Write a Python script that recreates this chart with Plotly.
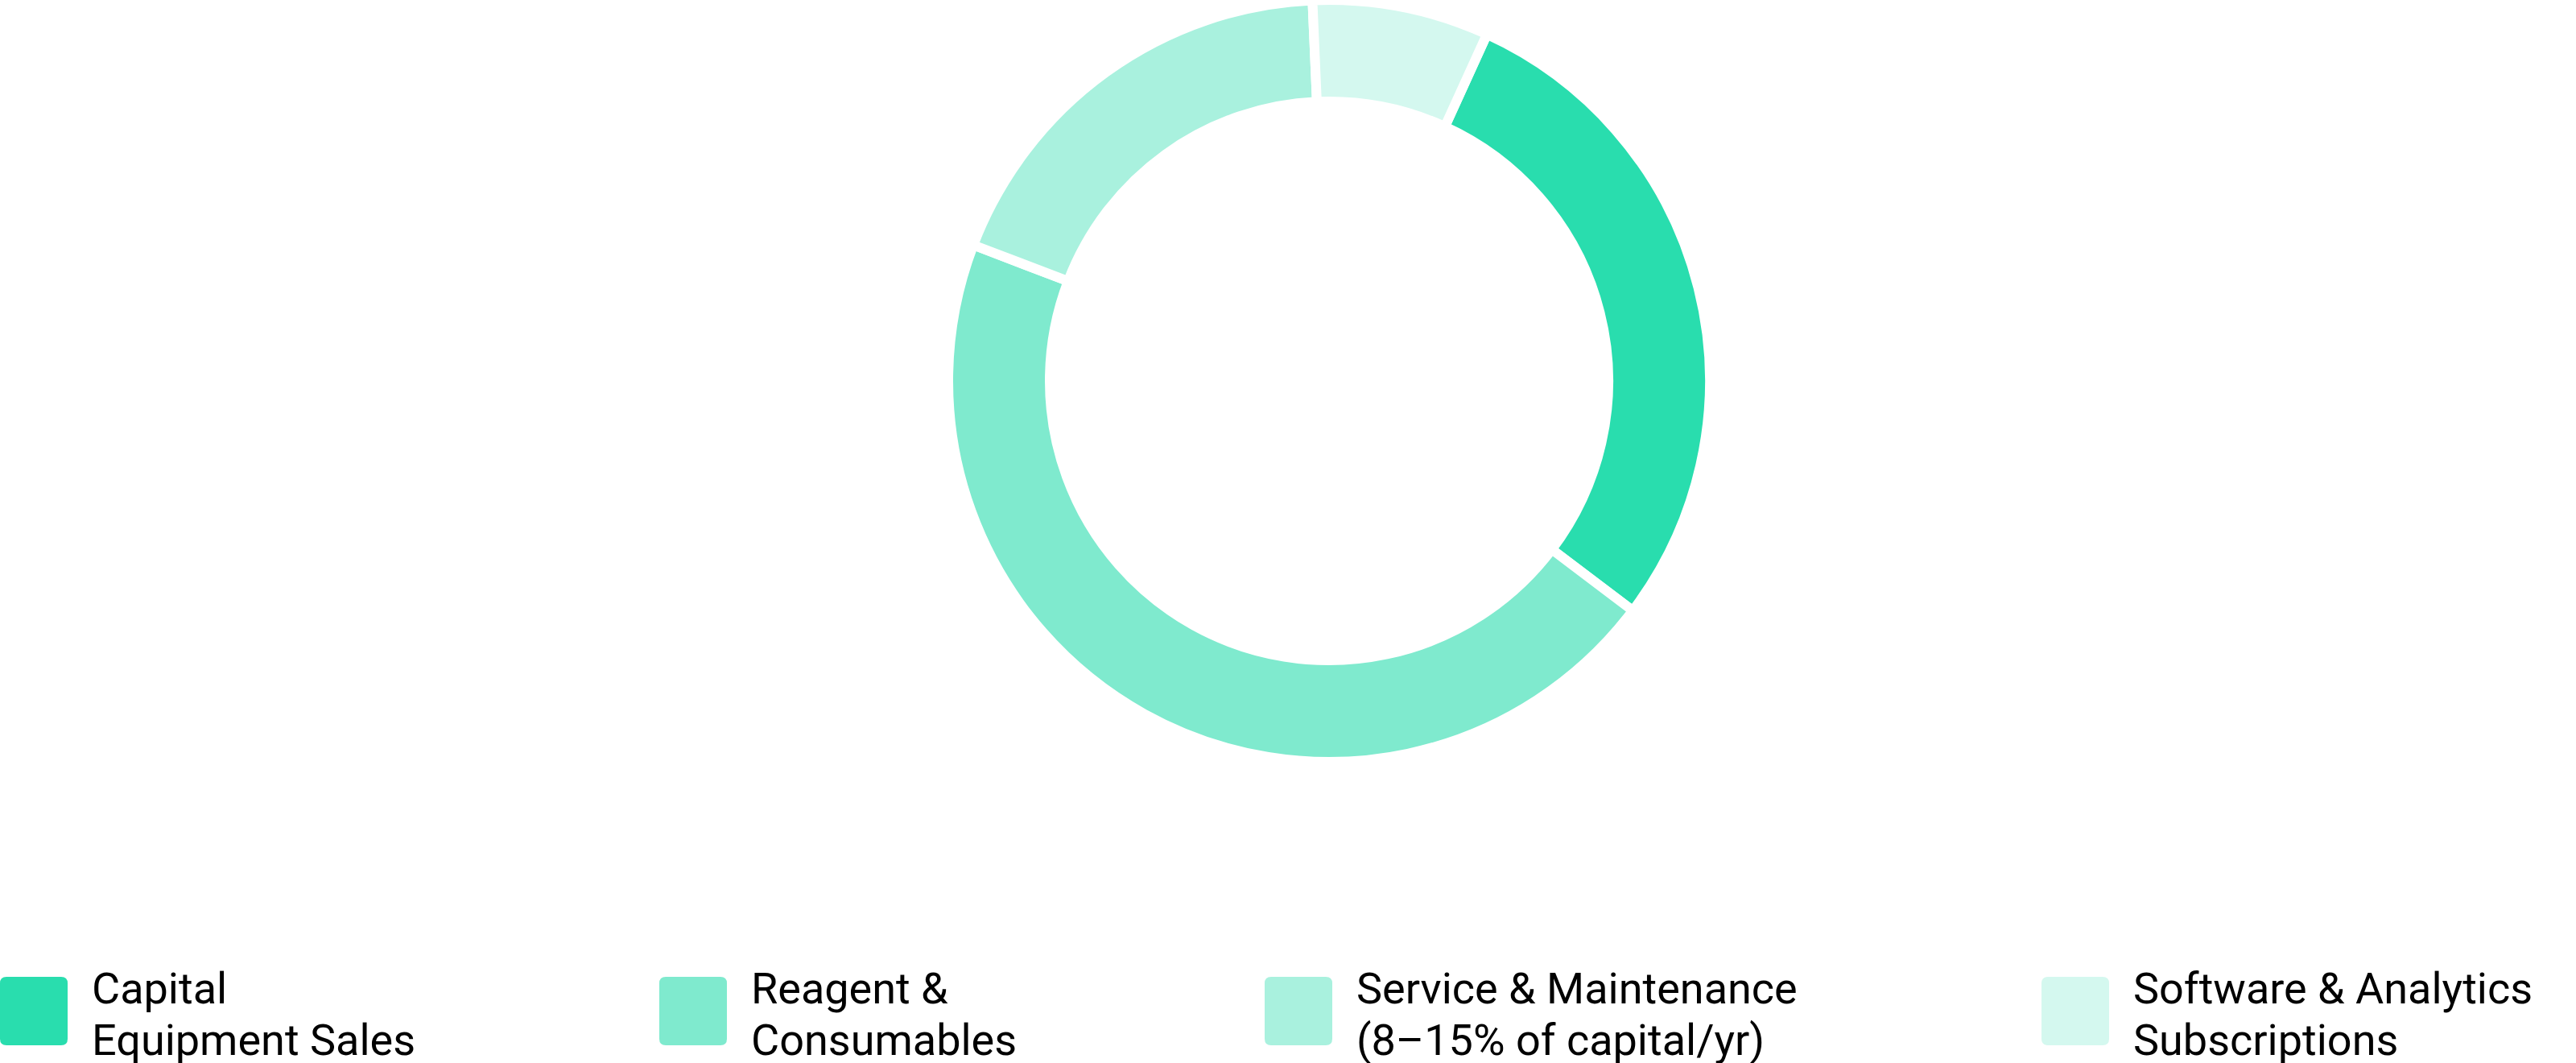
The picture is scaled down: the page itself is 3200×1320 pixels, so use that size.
""" Donut chart of revenue mix with a hand-drawn legend row at the bottom """

import plotly.graph_objects as go

W, H = 3200, 1320

# data
categories = ["Capital Equipment Sales", "Reagent & Consumables",
              "Service & Maintenance (8–15% of capital/yr)",
              "Software & Analytics Subscriptions"]
legend_line1 = ["Capital", "Reagent &", "Service & Maintenance", "Software & Analytics"]
legend_line2 = ["Equipment Sales", "Consumables", "(8–15% of capital/yr)", "Subscriptions"]
shares = [28.5, 45.5, 18.5, 7.5]
colors = ["#29DDAE", "#7FEACE", "#A9F1DE", "#D4F8EF"]

# layout bits (pixels)
swatch_x = [0, 819, 1571, 2536]
swatch_size = 85
swatch_top = 1213
text_offset = 112
line_y = [1227, 1291]


def px(x):
    return x / W


def py(y):
    return 1 - y / H


def rounded_rect(x0, y0, w, h, r):
    """ svg path of a rounded rectangle in paper units, input in pixels """
    pts = [
        f"M {px(x0 + r)},{py(y0)}",
        f"L {px(x0 + w - r)},{py(y0)}",
        f"Q {px(x0 + w)},{py(y0)} {px(x0 + w)},{py(y0 + r)}",
        f"L {px(x0 + w)},{py(y0 + h - r)}",
        f"Q {px(x0 + w)},{py(y0 + h)} {px(x0 + w - r)},{py(y0 + h)}",
        f"L {px(x0 + r)},{py(y0 + h)}",
        f"Q {px(x0)},{py(y0 + h)} {px(x0)},{py(y0 + h - r)}",
        f"L {px(x0)},{py(y0 + r)}",
        f"Q {px(x0)},{py(y0)} {px(x0 + r)},{py(y0)}",
        "Z",
    ]
    return " ".join(pts)


cx, cy, R = 1651, 473, 473
line_w = 12

fig = go.Figure()
fig.add_trace(go.Pie(
    labels=categories,
    values=shares,
    sort=False,
    direction="clockwise",
    rotation=24.5,
    hole=(353 - line_w / 2) / R,
    marker=dict(colors=colors, line=dict(color="white", width=line_w)),
    textinfo="none",
    hoverinfo="label+percent",
    domain=dict(x=[px(cx - R), px(cx + R)], y=[py(cy + R), 1]),
    showlegend=False,
))

for i in range(len(categories)):
    fig.add_shape(type="path", xref="paper", yref="paper",
                  path=rounded_rect(swatch_x[i], swatch_top, swatch_size - 1, swatch_size, 8),
                  fillcolor=colors[i], line=dict(width=0))
    for txt, ly in zip([legend_line1[i], legend_line2[i]], line_y):
        fig.add_annotation(x=px(swatch_x[i] + text_offset), y=py(ly),
                           xref="paper", yref="paper", xanchor="left", yanchor="middle",
                           text=txt, showarrow=False, align="left",
                           font=dict(family="Roboto", size=54, color="#000000"))

fig.update_layout(width=W, height=H, margin=dict(l=0, r=0, t=0, b=0),
                  paper_bgcolor="white", plot_bgcolor="white",
                  font=dict(family="Roboto"))

fig.write_html("out.html", config={"displayModeBar": False},
               post_script="document.body.style.margin='0';")
